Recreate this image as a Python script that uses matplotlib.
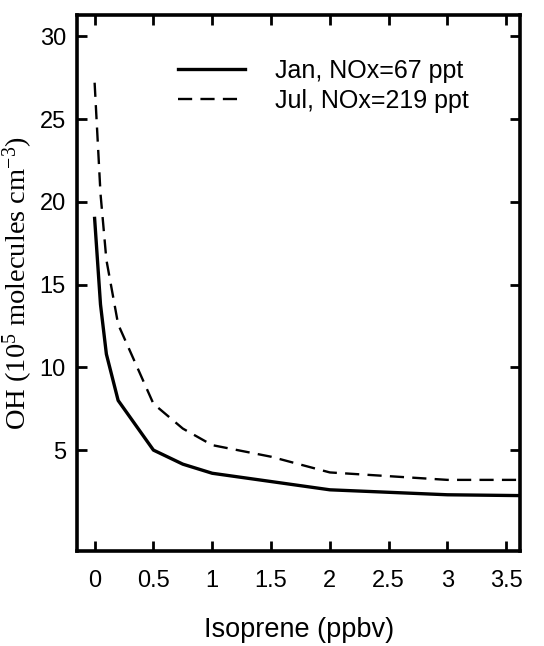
import numpy as np
import matplotlib
matplotlib.use("Agg")
import matplotlib.pyplot as plt

# isoprene (ppbv) and OH (1e5 molecules cm^-3)
iso_jan = [0, 0.05, 0.1, 0.2, 0.5, 0.75, 1.0, 1.5, 2.0, 3.0, 3.62]
oh_jan = [19.0, 13.8, 10.8, 8.0, 5.0, 4.15, 3.6, 3.1, 2.6, 2.3, 2.25]
iso_jul = [0, 0.05, 0.1, 0.2, 0.5, 0.75, 1.0, 1.5, 2.0, 3.0, 3.62]
oh_jul = [27.2, 20.5, 16.5, 12.6, 7.8, 6.3, 5.3, 4.6, 3.65, 3.2, 3.2]
labels = ["Jan, NOx=67 ppt", "Jul, NOx=219 ppt"]
xticks = [0, 0.5, 1, 1.5, 2, 2.5, 3, 3.5]
xticklabels = ["0", "0.5", "1", "1.5", "2", "2.5", "3", "3.5"]
yticks = [5, 10, 15, 20, 25, 30]

sans = "Liberation Sans"
serif = "Liberation Serif"
plt.rcParams["mathtext.fontset"] = "custom"
plt.rcParams["mathtext.rm"] = serif
plt.rcParams["mathtext.it"] = serif
plt.rcParams["mathtext.default"] = "rm"

fig = plt.figure(figsize=(5.44, 6.46), dpi=100)
ax = fig.add_axes([0.1415, 0.147, 0.815, 0.83])

ax.plot(iso_jan, oh_jan, color="black", lw=2.4, label=labels[0])
ax.plot(iso_jul, oh_jul, color="black", lw=1.7, dashes=(6, 3.5), label=labels[1])

ax.set_xlim(-0.15, 3.62)
ax.set_ylim(-1.1, 31.3)
ax.set_xticks(xticks)
ax.set_xticklabels(xticklabels, fontfamily=sans, fontsize=17)
ax.set_yticks(yticks)
ax.set_yticklabels([str(v) for v in yticks], fontfamily=sans, fontsize=17)
ax.tick_params(direction="in", length=7, width=2, top=True, right=True,
               labeltop=False, labelright=False, pad=8)
ax.tick_params(axis="x", pad=14)
for s in ax.spines.values():
    s.set_linewidth(2.6)

ax.set_xlabel("Isoprene (ppbv)", fontfamily=sans, fontsize=19.5, labelpad=18)
ax.set_ylabel(r"OH (10$^5$ molecules cm$^{-3}$)", fontfamily=serif, fontsize=20.5, labelpad=3)

leg = ax.legend(loc="upper right", frameon=False, prop={"family": sans, "size": 18},
                handlelength=2.7, handletextpad=1.2, bbox_to_anchor=(0.935, 0.96),
                labelspacing=0.25)

fig.savefig("out.png", dpi=100)
